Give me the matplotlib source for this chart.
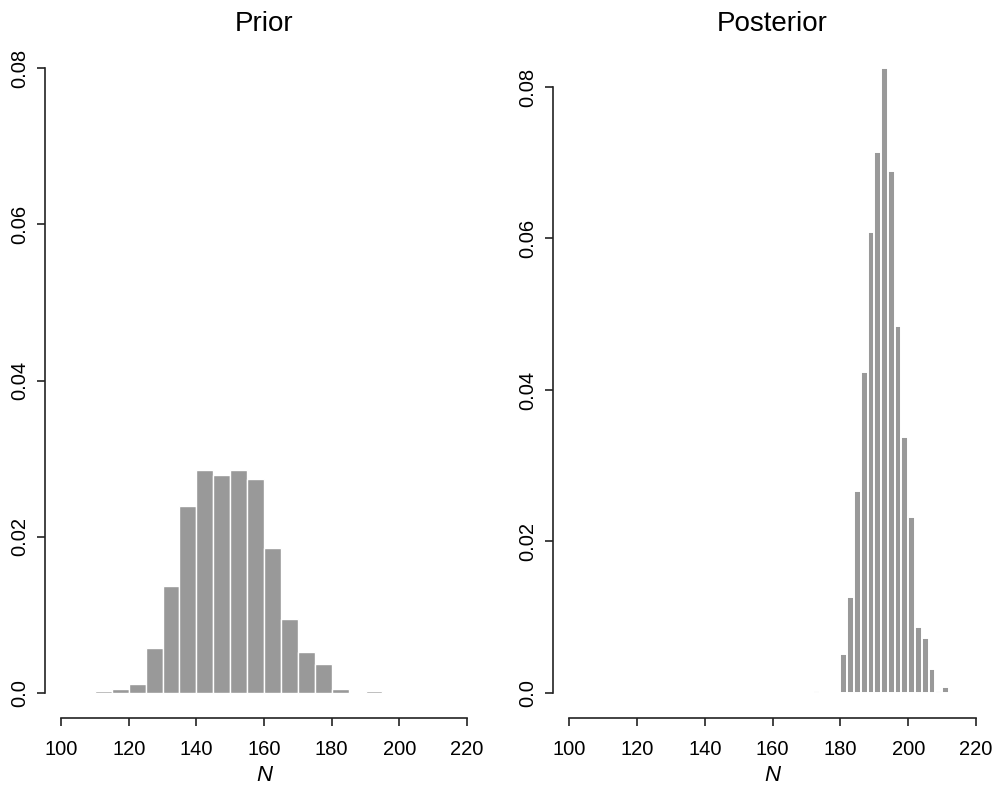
import numpy as np
import matplotlib
matplotlib.use("Agg")
import matplotlib.pyplot as plt

plt.rcParams['font.family'] = ['Liberation Sans', 'DejaVu Sans']

# prior: bins of width 5 from 110 to 200 (density)
prior_edges = np.arange(110, 201, 5)
prior_dens = [0.0002, 0.0005, 0.0012, 0.0057, 0.0137, 0.0239, 0.0285, 0.0279, 0.0285,
              0.0274, 0.0185, 0.0095, 0.0053, 0.0037, 0.0005, 0.00005, 0.0002, 0.00005]

# posterior: bins of width 2 from 172 to 212 (density)
post_edges = np.arange(172, 213, 2)
post_dens = [0.0003, 0.0, 0.0, 0.0, 0.0052, 0.0127, 0.0267, 0.0424, 0.0609, 0.0714,
             0.0825, 0.0689, 0.0484, 0.0338, 0.0232, 0.0087, 0.0073, 0.0032, 0.0003, 0.0008]

yticks = [0.0, 0.02, 0.04, 0.06, 0.08]
ylabels = ["0.0", "0.02", "0.04", "0.06", "0.08"]
xticks = [100, 120, 140, 160, 180, 200, 220]

fig = plt.figure(figsize=(10.03, 7.91), dpi=100)
ax1 = fig.add_axes([0.0447, 0.0923, 0.4371, 0.8533])
ax2 = fig.add_axes([0.5513, 0.0923, 0.4380, 0.8533])


def draw(ax, edges, dens, title, ytop, lw):
    ax.bar(edges[:-1], dens, width=np.diff(edges), align='edge',
           color='#999999', edgecolor='white', linewidth=lw)
    ax.set_xlim(95.2, 224.8)
    ax.set_ylim(-0.04 * ytop, 1.04 * ytop)
    for s in ['top', 'right']:
        ax.spines[s].set_visible(False)
    ax.spines['left'].set_bounds(0, 0.08)
    ax.spines['bottom'].set_bounds(100, 220)
    for s in ['left', 'bottom']:
        ax.spines[s].set_color('#222222')
        ax.spines[s].set_linewidth(1.2)
    ax.set_xticks(xticks)
    ax.set_yticks(yticks)
    ax.set_yticklabels(ylabels, rotation=90, va='center')
    ax.tick_params(axis='both', direction='out', length=5.5, width=1.2,
                   color='#222222', labelsize=14.5)
    ax.tick_params(axis='x', pad=10)
    ax.tick_params(axis='y', pad=6)
    ax.set_title(title, fontsize=20, pad=9)
    ax.set_xlabel("N", fontstyle='italic', fontsize=16, labelpad=5)


draw(ax1, prior_edges, prior_dens, "Prior", 0.08, 1.0)
draw(ax2, post_edges, post_dens, "Posterior", 0.0825, 1.4)

fig.savefig("out.png", dpi=100)
